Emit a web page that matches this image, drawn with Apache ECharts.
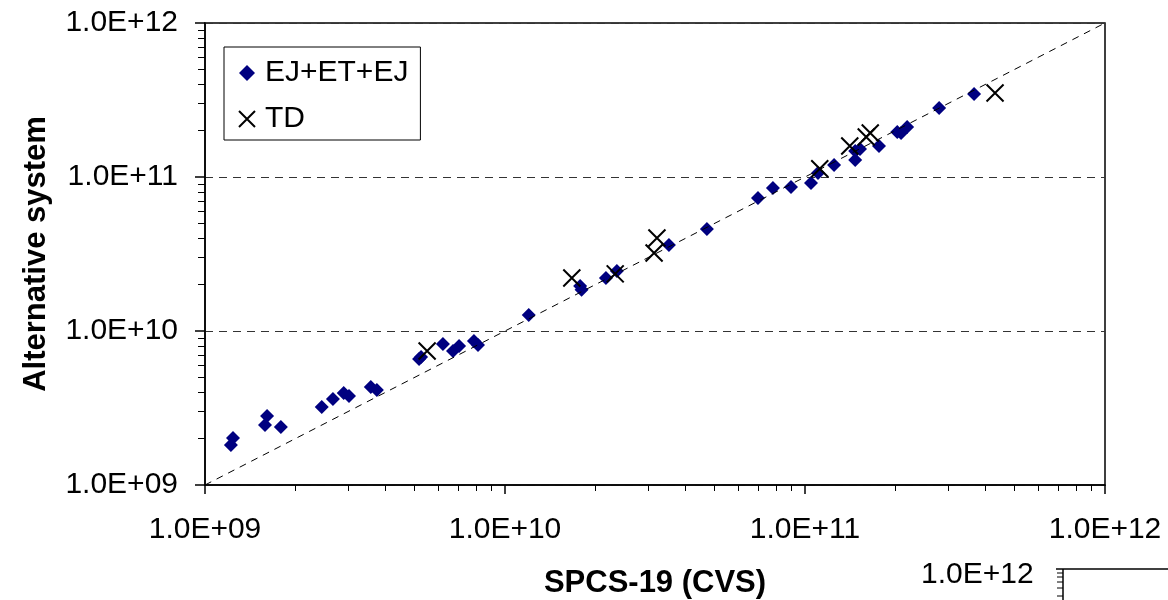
<!DOCTYPE html>
<html>
<head>
<meta charset="utf-8">
<script src="https://cdn.jsdelivr.net/npm/echarts@6/dist/echarts.min.js"></script>
<style>html,body{margin:0;padding:0;background:#fff;}#c{width:1168px;height:600px;}</style>
</head>
<body>
<div id="c"></div>
<script>
// ---- data ----
const ejX = [1.22e9,1.24e9,1.585e9,1.61e9,1.79e9,2.45e9,2.67e9,2.9e9,3.02e9,3.57e9,3.74e9,5.17e9,5.25e9,6.21e9,6.71e9,7.03e9,7.88e9,8.13e9,1.2e10,1.78e10,1.8e10,2.17e10,2.36e10,3.52e10,4.71e10,6.97e10,7.82e10,8.98e10,1.047e11,1.105e11,1.25e11,1.47e11,1.47e11,1.525e11,1.765e11,2.03e11,2.09e11,2.19e11,2.8e11,3.66e11];
const ejY = [1.82e9,2.02e9,2.45e9,2.81e9,2.38e9,3.21e9,3.62e9,3.96e9,3.79e9,4.33e9,4.14e9,6.58e9,6.78e9,8.23e9,7.42e9,7.99e9,8.61e9,8.11e9,1.27e10,1.96e10,1.85e10,2.21e10,2.45e10,3.62e10,4.6e10,7.3e10,8.49e10,8.61e10,9.14e10,1.062e11,1.197e11,1.29e11,1.475e11,1.52e11,1.59e11,1.96e11,1.93e11,2.11e11,2.81e11,3.46e11];
const tdX = [5.5e9,1.67e10,2.33e10,3.14e10,3.21e10,1.12e11,1.41e11,1.6e11,1.65e11,4.3e11];
const tdY = [7.42e9,2.21e10,2.35e10,3.21e10,4.02e10,1.13e11,1.59e11,1.82e11,1.93e11,3.51e11];
const refLine = [1e9, 1e12];
const seriesNames = ['EJ+ET+EJ', 'TD'];
const tickLabels = ['1.0E+09','1.0E+10','1.0E+11','1.0E+12'];
const decades = [1e9, 1e10, 1e11];
const minorMult = [2,3,4,5,6,7,8,9];
const axisMin = 1e9, axisMax = 1e12;
const xTitle = 'SPCS-19 (CVS)';
const yTitle = 'Alternative system';
const strayLabel = '1.0E+12';

// ---- build ----
const minorTicks = [];
decades.forEach(d => minorMult.forEach(m => minorTicks.push(d * m)));
const FONT = '"Liberation Sans", Arial, sans-serif';
const fmt = v => tickLabels[Math.round(Math.log10(v)) - 9];

const chart = echarts.init(document.getElementById('c'), null, {renderer: 'canvas'});
chart.setOption({
  animation: false,
  backgroundColor: '#fff',
  textStyle: {fontFamily: FONT, color: '#000'},
  grid: {left: 205, top: 23, right: 63, bottom: 115, outerBoundsMode: 'none', containLabel: false,
         show: true, borderColor: '#000', borderWidth: 1.5, backgroundColor: 'transparent'},
  legend: {
    orient: 'vertical', left: 224, top: 47,
    data: seriesNames,
    borderColor: '#000', borderWidth: 1, padding: [11, 12, 6, 14],
    itemWidth: 16, itemHeight: 16, itemGap: 16,
    textStyle: {fontSize: 30, fontFamily: FONT, color: '#000', padding: [0, 0, 0, 5]}
  },
  xAxis: [{
    type: 'log', logBase: 10, min: axisMin, max: axisMax,
    axisLine: {show: true, lineStyle: {color: '#000', width: 1.5}},
    axisTick: {show: true, inside: false, length: 9, lineStyle: {color: '#000', width: 1.5}},
    axisLabel: {formatter: fmt, fontSize: 30, color: '#000', fontFamily: FONT, margin: 30},
    splitLine: {show: false},
    name: xTitle, nameLocation: 'middle', nameGap: 83,
    nameTextStyle: {fontSize: 31, fontWeight: 'bold', color: '#000', fontFamily: FONT}
  }, {
    type: 'log', logBase: 10, min: axisMin, max: axisMax, position: 'bottom',
    axisLine: {show: false},
    axisTick: {show: true, inside: false, length: 6, customValues: minorTicks, lineStyle: {color: '#000', width: 1}},
    axisLabel: {show: false},
    splitLine: {show: false}
  }],
  yAxis: [{
    type: 'log', logBase: 10, min: axisMin, max: axisMax,
    axisLine: {show: true, lineStyle: {color: '#000', width: 1.5}},
    axisTick: {show: true, inside: false, length: 10, lineStyle: {color: '#000', width: 1.5}},
    axisLabel: {formatter: fmt, fontSize: 30, color: '#000', fontFamily: FONT, margin: 27},
    splitLine: {show: true, lineStyle: {color: '#333', width: 1, type: [8, 6]}},
    name: yTitle, nameLocation: 'middle', nameGap: 153, nameRotate: 90,
    nameTextStyle: {fontSize: 31, fontWeight: 'bold', color: '#000', fontFamily: FONT}
  }, {
    type: 'log', logBase: 10, min: axisMin, max: axisMax, position: 'left',
    axisLine: {show: false},
    axisTick: {show: true, inside: false, length: 7, customValues: minorTicks, lineStyle: {color: '#000', width: 1}},
    axisLabel: {show: false},
    splitLine: {show: false}
  }],
  series: [{
    type: 'line', name: 'ref', data: refLine.map(v => [v, v]),
    symbol: 'none', silent: true,
    lineStyle: {color: '#000', width: 1, type: [7, 6]}
  }, {
    type: 'scatter', name: seriesNames[0],
    data: ejX.map((x, i) => [x, ejY[i]]),
    symbol: 'diamond', symbolSize: 14,
    itemStyle: {color: '#000080', opacity: 1}
  }, {
    type: 'scatter', name: seriesNames[1],
    data: tdX.map((x, i) => [x, tdY[i]]),
    symbol: 'path://M0,0L10,10M10,0L0,10', symbolSize: 17,
    itemStyle: {color: 'rgba(0,0,0,0)', borderColor: '#000', borderWidth: 2, opacity: 1}
  }],
  graphic: [
    {type: 'text', left: 921, top: 560, style: {text: strayLabel, font: '30px ' + FONT, fill: '#000'}},
    {type: 'line', shape: {x1: 1063, y1: 569, x2: 1168, y2: 569}, style: {stroke: '#000', lineWidth: 1.5}},
    {type: 'line', shape: {x1: 1063, y1: 569, x2: 1063, y2: 600}, style: {stroke: '#000', lineWidth: 1.5}},
    {type: 'line', shape: {x1: 1056, y1: 569, x2: 1063, y2: 569}, style: {stroke: '#000', lineWidth: 1.5}},
    {type: 'line', shape: {x1: 1057, y1: 573, x2: 1063, y2: 573}, style: {stroke: '#000', lineWidth: 1}},
    {type: 'line', shape: {x1: 1057, y1: 577, x2: 1063, y2: 577}, style: {stroke: '#000', lineWidth: 1}},
    {type: 'line', shape: {x1: 1057, y1: 582, x2: 1063, y2: 582}, style: {stroke: '#000', lineWidth: 1}},
    {type: 'line', shape: {x1: 1057, y1: 588, x2: 1063, y2: 588}, style: {stroke: '#000', lineWidth: 1}},
    {type: 'line', shape: {x1: 1057, y1: 596, x2: 1063, y2: 596}, style: {stroke: '#000', lineWidth: 1}}
  ]
});
</script>
</body>
</html>
